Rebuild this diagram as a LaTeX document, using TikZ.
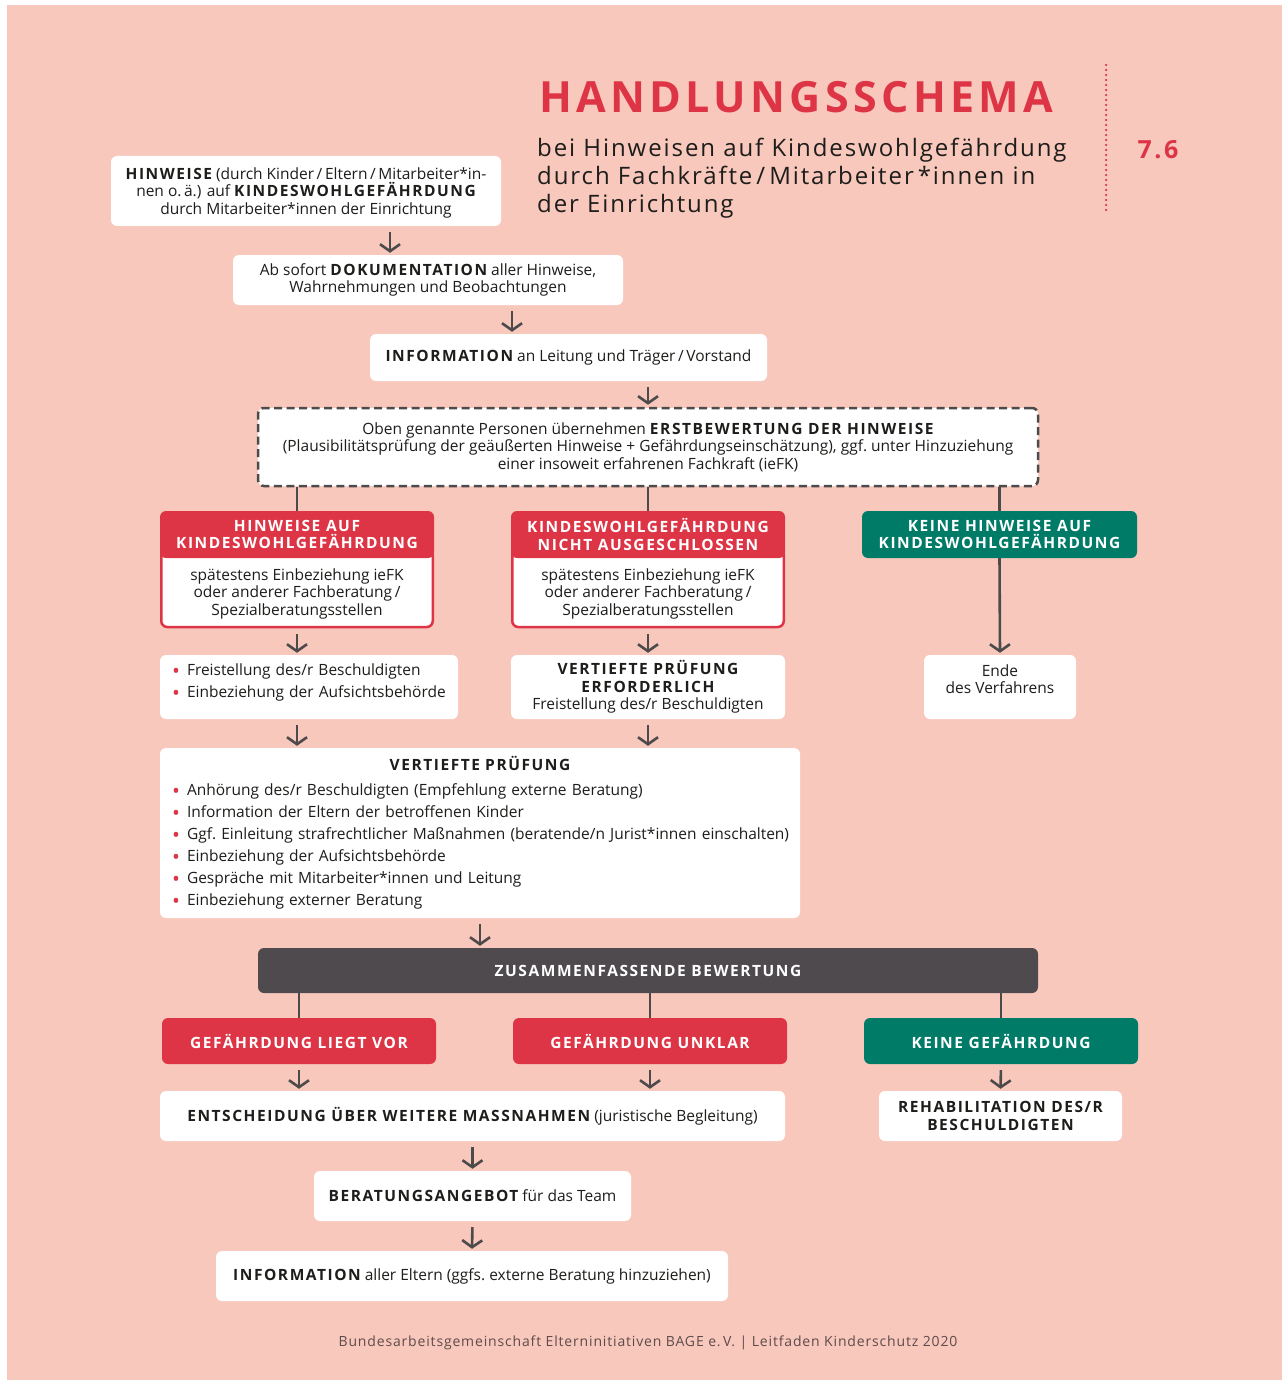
\documentclass[tikz,border=0pt]{standalone}
\usepackage{fontspec}
\setmainfont{Open Sans}
\newfontfamily\spaced[LetterSpace=10]{Open Sans}
\newfontfamily\titelfont[LetterSpace=10]{Open Sans}
\newfontfamily\untertitel[LetterSpace=8]{Open Sans}
\newfontfamily\fussfont[LetterSpace=6]{Open Sans}
\usetikzlibrary{arrows.meta}

\definecolor{hintergrund}{HTML}{F9C8BC}
\definecolor{rot}{HTML}{DD3546}
\definecolor{gruen}{HTML}{007B67}
\definecolor{dunkel}{HTML}{4E4A4D}
\definecolor{pfeilgrau}{HTML}{4D4A4C}
\definecolor{fussgrau}{HTML}{5E4B4B}
\definecolor{schrift}{HTML}{1D1D1B}

\newcommand\grund{\fontsize{15.5}{17.5}\selectfont}
\newcommand\caps[1]{{\spaced\bfseries #1}}
\newcommand\bul{\makebox[22pt][c]{\textcolor{rot}{\fontsize{21}{0}\selectfont\raisebox{-2.5pt}{•}}}}

\begin{document}
\begin{tikzpicture}[x=1pt, y=-1pt,
  kasten/.style={fill=white, rounded corners=6pt, inner sep=0pt, align=center, text=schrift, font=\grund},
  strichkasten/.style={kasten, draw=pfeilgrau, line width=2.5pt, dash pattern=on 8pt off 4.5pt},
  kopf/.style={fill=#1, rounded corners=6pt, inner sep=0pt, align=center, text=white, font=\grund\spaced\bfseries},
  koerper/.style={kasten, draw=rot, line width=2.5pt},
  pfeil/.style={draw=pfeilgrau, line width=2.6pt, -{Straight Barb[length=7pt,width=20pt]}, shorten <=6pt, shorten >=2pt},
  linie/.style={draw=pfeilgrau, line width=2.6pt}]

\fill[white] (0,0) rectangle (1282,1380);
\fill[hintergrund] (7,5) rectangle (1282,1380);
\useasboundingbox (0,0) rectangle (1282,1380);

% Kopfzeile
\node[anchor=base west, text=rot, font=\titelfont\bfseries\fontsize{43}{43}\selectfont, inner sep=0pt] (titel) at (539,113) {HANDLUNGSSCHEMA};
\node[anchor=west, align=left, text=schrift, font=\untertitel\fontsize{24}{28}\selectfont, inner sep=0pt] (untertitel) at (537,178) {bei Hinweisen auf Kindeswohlgefährdung\\durch Fachkräfte\,/\,Mitarbeiter\,*innen in\\der Einrichtung};
\draw[rot, line width=2.5pt, line cap=round, dash pattern=on 0pt off 5pt] (1106,65) -- (1106,212);
\node[text=rot, font=\spaced\bfseries\fontsize{25}{25}\selectfont, inner sep=0pt] (kapitel) at (1158,150) {7.6};

% obere Kette
\node[kasten, minimum width=390pt, minimum height=70pt] (hinw) at (306,191) {\rule{0pt}{15pt}\caps{HINWEISE} (durch Kinder\,/\,Eltern\,/\,Mitarbeiter*in-\\nen o.\,ä.) auf \caps{KINDESWOHLGEFÄHRDUNG}\\durch Mitarbeiter*innen der Einrichtung};
\node[kasten, minimum width=390pt, minimum height=50pt] (doku) at (428,280) {Ab sofort \caps{DOKUMENTATION} aller Hinweise,\\Wahrnehmungen und Beobachtungen};
\node[kasten, minimum width=397pt, minimum height=47pt] (info) at (568.5,357.5) {\caps{INFORMATION} an Leitung und Träger\,/\,Vorstand};
\node[strichkasten, minimum width=780pt, minimum height=78pt] (erst) at (648,447) {Oben genannte Personen übernehmen \caps{ERSTBEWERTUNG DER HINWEISE}\\(Plausibilitätsprüfung der geäußerten Hinweise + Gefährdungseinschätzung), ggf.\ unter Hinzuziehung\\einer insoweit erfahrenen Fachkraft (ieFK)};

\coordinate (p1) at (390,0);
\coordinate (p2) at (512,0);
\draw[pfeil] (p1 |- hinw.south) -- (p1 |- doku.north);
\draw[pfeil] (p2 |- doku.south) -- (p2 |- info.north);
\draw[pfeil] (info.south -| erst.north) -- (erst.north);

% drei Zweige
\node[koerper, minimum width=271.5pt, minimum height=79pt] (koerperA) at (297,587.5) {\rule{0pt}{24pt}spätestens Einbeziehung ieFK\\oder anderer Fachberatung\,/\\Spezialberatungsstellen};
\node[kopf=rot, minimum width=274pt, minimum height=47pt] (kopfA) at (297,534.5) {HINWEISE AUF\\KINDESWOHLGEFÄHRDUNG};
\node[koerper, minimum width=271.5pt, minimum height=79pt] (koerperB) at (648,587.5) {\rule{0pt}{24pt}spätestens Einbeziehung ieFK\\oder anderer Fachberatung\,/\\Spezialberatungsstellen};
\node[kopf=rot, minimum width=274pt, minimum height=47pt] (kopfB) at (648,534.5) {KINDESWOHLGEFÄHRDUNG\\NICHT AUSGESCHLOSSEN};
\node[kopf=gruen, minimum width=275pt, minimum height=47pt] (kopfC) at (999.5,534.5) {KEINE HINWEISE AUF\\KINDESWOHLGEFÄHRDUNG};

\draw[linie] (erst.south -| kopfA.north) -- (kopfA.north);
\draw[linie] (erst.south -| kopfB.north) -- (kopfB.north);
\draw[linie] (erst.south -| kopfC.north) -- (kopfC.north);

\node[kasten, minimum width=298pt, minimum height=64pt, text width=288pt, align=left, font=\fontsize{15.5}{22}\selectfont] (punkteA) at (309,687) {\bul Freistellung des/r Beschuldigten\\\bul Einbeziehung der Aufsichtsbehörde\rule[-12pt]{0pt}{12pt}};
\node[kasten, minimum width=274pt, minimum height=64pt] (pruefB) at (648,687) {\caps{VERTIEFTE PRÜFUNG}\\\caps{ERFORDERLICH}\\Freistellung des/r Beschuldigten};
\node[kasten, minimum width=152pt, minimum height=64pt] (ende) at (1000,687) {Ende\\des Verfahrens\rule[-16pt]{0pt}{16pt}};

\draw[pfeil] (koerperA.south) -- (koerperA.south |- punkteA.north);
\draw[pfeil] (koerperB.south) -- (pruefB.north);
\draw[pfeil, shorten <=0pt] (kopfC.south) -- (ende.north);

% vertiefte Pruefung
\node[kasten, minimum width=640pt, minimum height=170pt, text width=630pt, align=left, font=\fontsize{15.5}{22}\selectfont] (vp) at (480,833) {{\centering\caps{VERTIEFTE PRÜFUNG}\par}\vspace{3pt}
\bul Anhörung des/r Beschuldigten (Empfehlung externe Beratung)\\
\bul Information der Eltern der betroffenen Kinder\\
\bul Ggf.\ Einleitung strafrechtlicher Maßnahmen (beratende/n Jurist*innen einschalten)\\
\bul Einbeziehung der Aufsichtsbehörde\\
\bul Gespräche mit Mitarbeiter*innen und Leitung\\
\bul Einbeziehung externer Beratung};

\draw[pfeil] (koerperA.south |- punkteA.south) -- (koerperA.south |- vp.north);
\draw[pfeil] (pruefB.south) -- (pruefB.south |- vp.north);

% Bewertung
\node[kopf=dunkel, minimum width=780pt, minimum height=45pt] (zus) at (648,970.5) {ZUSAMMENFASSENDE BEWERTUNG};
\draw[pfeil] (vp.south) -- (vp.south |- zus.north);

\node[kopf=rot, minimum width=274pt, minimum height=46pt] (liegt) at (299,1041) {GEFÄHRDUNG LIEGT VOR};
\node[kopf=rot, minimum width=274pt, minimum height=46pt] (unklar) at (650,1041) {GEFÄHRDUNG UNKLAR};
\node[kopf=gruen, minimum width=274pt, minimum height=46pt] (keine) at (1001,1041) {KEINE GEFÄHRDUNG};

\draw[linie] (zus.south -| liegt.north) -- (liegt.north);
\draw[linie] (zus.south -| unklar.north) -- (unklar.north);
\draw[linie] (zus.south -| keine.north) -- (keine.north);

\node[kasten, minimum width=625pt, minimum height=50pt] (ents) at (472.5,1116) {\caps{ENTSCHEIDUNG ÜBER WEITERE MASSNAHMEN} (juristische Begleitung)};
\node[kasten, minimum width=243pt, minimum height=50pt] (reha) at (1000.5,1116) {\caps{REHABILITATION DES/R}\\\caps{BESCHULDIGTEN}};
\node[kasten, minimum width=317pt, minimum height=50pt] (berat) at (472.5,1196) {\caps{BERATUNGSANGEBOT} für das Team};
\node[kasten, minimum width=512pt, minimum height=50pt] (eltern) at (472,1276) {\caps{INFORMATION} aller Eltern (ggfs.\ externe Beratung hinzuziehen)};

\draw[pfeil] (liegt.south) -- (liegt.south |- ents.north);
\draw[pfeil] (unklar.south) -- (unklar.south |- ents.north);
\draw[pfeil] (keine.south) -- (reha.north);
\draw[pfeil] (ents.south) -- (berat.north);
\draw[pfeil] (berat.south) -- (eltern.north);

\node[text=fussgrau, font=\fussfont\fontsize{14}{15}\selectfont, inner sep=0pt] (fuss) at (648,1343) {Bundesarbeitsgemeinschaft Elterninitiativen BAGE e.\,V. | Leitfaden Kinderschutz 2020};
\end{tikzpicture}
\end{document}
